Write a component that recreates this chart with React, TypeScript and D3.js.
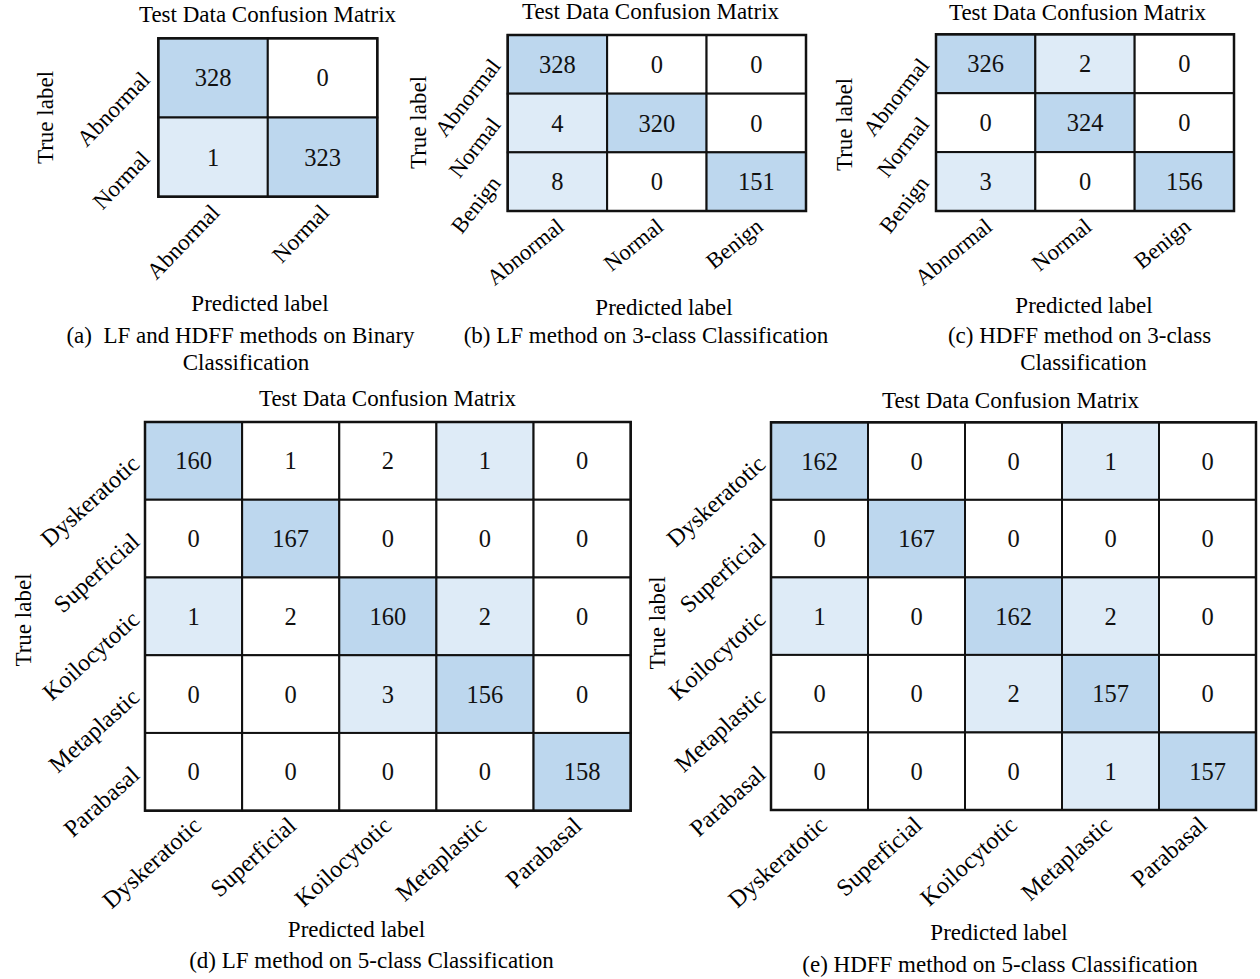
import React from "react";
import * as d3 from "d3";

// ---------- data ----------
const binaryLabels = ["Abnormal", "Normal"];
const threeLabels = ["Abnormal", "Normal", "Benign"];
const fiveLabels = ["Dyskeratotic", "Superficial", "Koilocytotic", "Metaplastic", "Parabasal"];

const matrixA = [
  [328, 0],
  [1, 323],
];
const matrixB = [
  [328, 0, 0],
  [4, 320, 0],
  [8, 0, 151],
];
const matrixC = [
  [326, 2, 0],
  [0, 324, 0],
  [3, 0, 156],
];
const matrixD = [
  [160, 1, 2, 1, 0],
  [0, 167, 0, 0, 0],
  [1, 2, 160, 2, 0],
  [0, 0, 3, 156, 0],
  [0, 0, 0, 0, 158],
];
const matrixE = [
  [162, 0, 0, 1, 0],
  [0, 167, 0, 0, 0],
  [1, 0, 162, 2, 0],
  [0, 0, 2, 157, 0],
  [0, 0, 0, 1, 157],
];
// shading levels as drawn in panel (d) (0 = white, 1 = light, 2 = dark)
const shadeD = [
  [2, 0, 0, 1, 0],
  [0, 2, 0, 0, 0],
  [1, 0, 2, 1, 0],
  [0, 0, 1, 2, 0],
  [0, 0, 0, 0, 2],
];

const chartTitle = "Test Data Confusion Matrix";
const xAxisTitle = "Predicted label";
const yAxisTitle = "True label";
const captionA = ["(a)  LF and HDFF methods on Binary", "Classification"];
const captionB = ["(b) LF method on 3-class Classification"];
const captionC = ["(c) HDFF method on 3-class", "Classification"];
const captionD = ["(d) LF method on 5-class Classification"];
const captionE = ["(e) HDFF method on 5-class Classification"];

// ---------- styling / layout ----------
const FONT = '"Liberation Serif", "Times New Roman", Times, serif';
const shadeColors = ["#ffffff", "#deebf7", "#bdd7ee"];
const levelScale = d3.scaleThreshold<number, number>().domain([1, 100]).range([0, 1, 2]);

type Layout = {
  labels: string[];
  matrix: number[][];
  shade?: number[][];
  caption: string[];
  box: [number, number, number, number]; // x0, x1, y0, y1
  title: [number, number];
  yTitle: [number, number];
  xTitle: [number, number];
  captionPos: [number, number][];
  tickX: [number, number]; // dx, dy
  tickY: [number, number];
  tickShrink: number;
  tickFs: number;
  yAngle: number;
  xAngle: number;
};

const layouts: Layout[] = [
  {
    labels: binaryLabels, matrix: matrixA, caption: captionA,
    box: [158.3, 377.3, 38.3, 196.7],
    title: [267.5, 22], yTitle: [45, 117.5], xTitle: [260, 311],
    captionPos: [[240.5, 343], [246, 370]],
    tickX: [8, 17], tickY: [-7, 3], tickShrink: 0,
    tickFs: 23, yAngle: 46, xAngle: 46,
  },
  {
    labels: threeLabels, matrix: matrixB, caption: captionB,
    box: [507.7, 806, 35, 211],
    title: [650.5, 19], yTitle: [418.5, 122.5], xTitle: [664, 315],
    captionPos: [[646, 343]],
    tickX: [8, 18], tickY: [-6, 2], tickShrink: 0,
    tickFs: 22.5, yAngle: 52, xAngle: 39,
  },
  {
    labels: threeLabels, matrix: matrixC, caption: captionC,
    box: [936, 1234, 34.3, 211],
    title: [1077.5, 20], yTitle: [844, 124.5], xTitle: [1084, 313],
    captionPos: [[1079.5, 343], [1083.5, 370]],
    tickX: [8, 18], tickY: [-6, 2], tickShrink: 0,
    tickFs: 22.5, yAngle: 52, xAngle: 39,
  },
  {
    labels: fiveLabels, matrix: matrixD, shade: shadeD, caption: captionD,
    box: [145, 630.7, 422, 810.7],
    title: [387.5, 406], yTitle: [23, 620], xTitle: [356.5, 937],
    captionPos: [[371.5, 968]],
    tickX: [0, 17], tickY: [-4, 5], tickShrink: 10,
    tickFs: 24, yAngle: 42, xAngle: 42,
  },
  {
    labels: fiveLabels, matrix: matrixE, caption: captionE,
    box: [771, 1256, 422.3, 810],
    title: [1010.5, 408], yTitle: [657, 623], xTitle: [999, 940],
    captionPos: [[1000, 972]],
    tickX: [0, 17], tickY: [-4, 5], tickShrink: 10,
    tickFs: 24, yAngle: 42, xAngle: 42,
  },
];

function Panel({ L }: { L: Layout }) {
  const [x0, x1, y0, y1] = L.box;
  const n = L.labels.length;
  const idx = d3.range(n).map(String);
  const x = d3.scaleBand<string>().domain(idx).range([x0, x1]).padding(0);
  const y = d3.scaleBand<string>().domain(idx).range([y0, y1]).padding(0);
  const xt = d3.scaleBand<string>().domain(idx).range([x0 + L.tickShrink, x1]).padding(0);
  const fs = 23;
  const numFs = 24.5;
  const fillFor = (i: number, j: number, v: number) =>
    shadeColors[L.shade ? L.shade[i][j] : levelScale(v)];
  return (
    <g>
      <text x={L.title[0]} y={L.title[1]} textAnchor="middle" fontSize={fs} fontFamily={FONT}>
        {chartTitle}
      </text>
      {L.matrix.map((row, i) =>
        row.map((v, j) => (
          <g key={`${i}-${j}`}>
            <rect
              x={x(String(j))!}
              y={y(String(i))!}
              width={x.bandwidth()}
              height={y.bandwidth()}
              fill={fillFor(i, j, v)}
              stroke="#111"
              strokeWidth={2}
            />
            <text
              x={x(String(j))! + x.bandwidth() / 2}
              y={y(String(i))! + y.bandwidth() / 2}
              textAnchor="middle"
              dominantBaseline="central"
              fontSize={numFs}
              fontFamily={FONT}
              fill="#111"
            >
              {v}
            </text>
          </g>
        ))
      )}
      <rect x={x0} y={y0} width={x1 - x0} height={y1 - y0} fill="none" stroke="#111" strokeWidth={2.5} />
      {L.labels.map((lab, i) => {
        const ax = x0 + L.tickY[0];
        const ay = y(String(i))! + y.bandwidth() / 2 + L.tickY[1];
        return (
          <text
            key={`y${i}`}
            x={ax}
            y={ay}
            textAnchor="end"
            transform={`rotate(${-L.yAngle} ${ax} ${ay})`}
            fontSize={L.tickFs}
            fontFamily={FONT}
          >
            {lab}
          </text>
        );
      })}
      {L.labels.map((lab, j) => {
        const ax = xt(String(j))! + xt.bandwidth() / 2 + L.tickX[0];
        const ay = y1 + L.tickX[1];
        return (
          <text
            key={`x${j}`}
            x={ax}
            y={ay}
            textAnchor="end"
            transform={`rotate(${-L.xAngle} ${ax} ${ay})`}
            fontSize={L.tickFs}
            fontFamily={FONT}
          >
            {lab}
          </text>
        );
      })}
      <text
        x={L.yTitle[0]}
        y={L.yTitle[1]}
        textAnchor="middle"
        dominantBaseline="central"
        transform={`rotate(-90 ${L.yTitle[0]} ${L.yTitle[1]})`}
        fontSize={fs}
        fontFamily={FONT}
      >
        {yAxisTitle}
      </text>
      <text x={L.xTitle[0]} y={L.xTitle[1]} textAnchor="middle" fontSize={fs} fontFamily={FONT}>
        {xAxisTitle}
      </text>
      {L.caption.map((c, k) => (
        <text
          key={`c${k}`}
          x={L.captionPos[k][0]}
          y={L.captionPos[k][1]}
          textAnchor="middle"
          fontSize={fs}
          fontFamily={FONT}
          style={{ whiteSpace: "pre" }}
        >
          {c}
        </text>
      ))}
    </g>
  );
}

export default function App() {
  return (
    <svg
      width={1260}
      height={979}
      viewBox="0 0 1260 979"
      style={{ position: "absolute", left: 0, top: 0, background: "#fff", display: "block" }}
    >
      <rect x={0} y={0} width={1260} height={979} fill="#fff" />
      {layouts.map((L, i) => (
        <Panel key={i} L={L} />
      ))}
    </svg>
  );
}
